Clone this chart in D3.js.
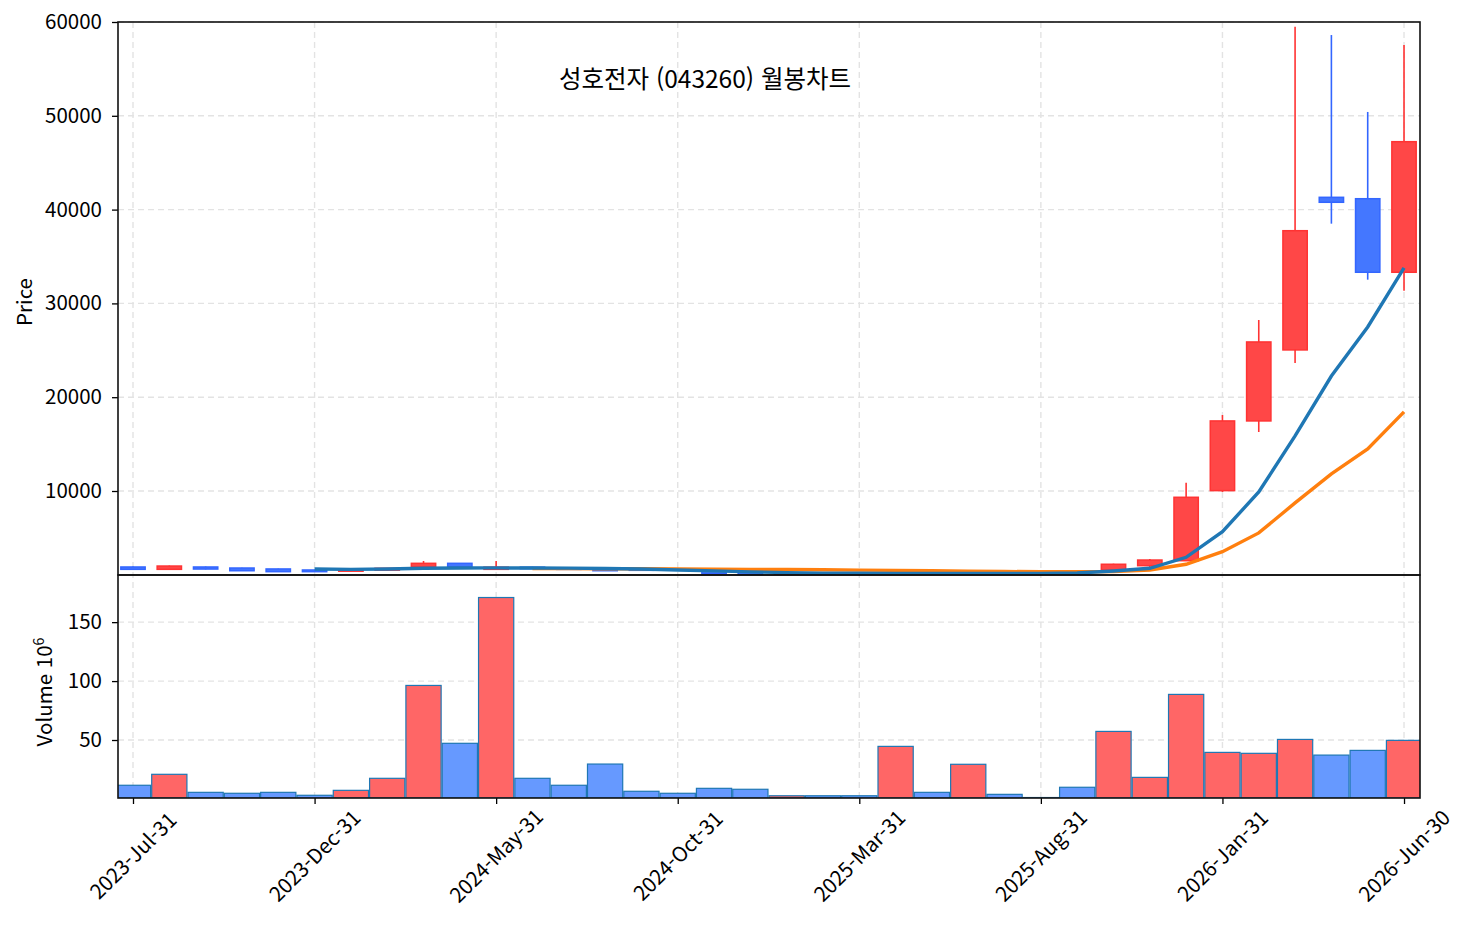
<!doctype html>
<html lang="ko">
  <head>
    <meta charset="UTF-8" />
    <title>성호전자 (043260) 월봉차트</title>
    <script src="https://cdn.jsdelivr.net/npm/d3@7"></script>
    <style>
      body { margin: 0; background: #fff; }
      svg text { font-family: "Noto Sans CJK KR", "Noto Sans", sans-serif; fill: #000; }
      .grid line { stroke: #e3e3e3; stroke-dasharray: 6,4; stroke-width: 1.4; }
      .axis line { stroke: #000; stroke-width: 1.3; }
      .axis text { font-size: 20.5px; }
    </style>
  </head>
  <body>
    <svg id="chart" width="1469" height="931"></svg>
    <script>
      // monthly candles, 2023-07 .. 2026-06
      const tickIdx = [0, 5, 10, 15, 20, 25, 30, 35];
      const tickLabels = ["2023-Jul-31", "2023-Dec-31", "2024-May-31", "2024-Oct-31",
                          "2025-Mar-31", "2025-Aug-31", "2026-Jan-31", "2026-Jun-30"];

      const opens  = [1900, 1650, 1900, 1790, 1690, 1580, 1450, 1560, 1900, 2290, 1650, 1880,
                      1750, 1700, 1650, 1700, 1440, 1360, 1080, 1230, 1200, 1150, 1250, 1200,
                      1260, 1200, 1180, 1580, 2040, 2570, 10040, 17470, 25040, 41310, 41160, 33320];
      const highs  = [1950, 2050, 1950, 1820, 1720, 1600, 1600, 1800, 2540, 2330, 2540, 1920,
                      1800, 1750, 1700, 1730, 1470, 1380, 1260, 1260, 1230, 1300, 1270, 1300,
                      1280, 1220, 1250, 2250, 2750, 10890, 18100, 28230, 59500, 58610, 50410, 57550];
      const lows   = [1600, 1620, 1640, 1470, 1380, 1370, 1420, 1530, 1850, 1850, 1620, 1680,
                      1620, 1460, 1500, 1580, 1150, 1060, 1060, 1150, 1120, 1120, 1170, 1180,
                      1170, 1160, 1120, 1560, 1900, 2540, 9900, 16290, 23650, 38500, 32530, 31360];
      const closes = [1650, 2000, 1680, 1500, 1400, 1400, 1560, 1760, 2290, 1900, 1880, 1720,
                      1650, 1500, 1550, 1600, 1180, 1080, 1230, 1180, 1150, 1250, 1200, 1260,
                      1200, 1180, 1150, 2190, 2640, 9330, 17470, 25890, 37750, 40780, 33320, 47240];
      // volume in millions of shares
      const volumes = [11.6, 20.9, 5.6, 4.8, 5.6, 3.1, 7.3, 17.5, 96.3, 47.2, 170.9, 17.5,
                       11.6, 29.6, 6.5, 4.8, 9.0, 8.2, 2.7, 2.7, 2.7, 44.6, 5.6, 29.4,
                       3.9, 1.2, 9.9, 57.3, 18.3, 88.7, 39.5, 38.7, 50.5, 37.2, 41.2, 49.7];
      // moving averages as drawn (null = not yet available)
      const maShort = [null, null, null, null, null, 1690, 1650, 1680, 1760, 1790, 1800, 1790,
                       1780, 1740, 1680, 1580, 1480, 1380, 1300, 1250, 1230, 1220, 1210, 1200,
                       1200, 1210, 1260, 1470, 1760, 2930, 5660, 9900, 15870, 22260, 27490, 33780];
      const maLong  = [null, null, null, null, null, null, null, null, null, null, null, 1720,
                       1720, 1715, 1705, 1690, 1670, 1650, 1630, 1600, 1570, 1540, 1500, 1460,
                       1420, 1390, 1390, 1420, 1580, 2190, 3530, 5530, 8730, 11820, 14480, 18430];

      const svg = d3.select("#chart");
      const left = 118, right = 1420;
      const pTop = 22, pBot = 575, vTop = 575, vBot = 798;

      const x = d3.scaleLinear().domain([-0.413, 35.44]).range([left, right]);
      const step = x(1) - x(0);
      const yP = d3.scaleLinear().domain([1045, 60000]).range([pBot, pTop]);
      const yV = d3.scaleLinear().domain([0.8, 190]).range([vBot, vTop]);
      const priceTicks = [10000, 20000, 30000, 40000, 50000, 60000];
      const volTicks = [50, 100, 150];

      const up = i => closes[i] >= opens[i];
      const idx = d3.range(closes.length);

      svg.append("defs").call(d => {
        d.append("clipPath").attr("id", "clipP").append("rect")
          .attr("x", left).attr("y", pTop).attr("width", right - left).attr("height", pBot - pTop);
        d.append("clipPath").attr("id", "clipV").append("rect")
          .attr("x", left).attr("y", vTop).attr("width", right - left).attr("height", vBot - vTop);
      });

      // grid
      const grid = svg.append("g").attr("class", "grid");
      priceTicks.forEach(v => {
        grid.append("line").attr("x1", left).attr("x2", right).attr("y1", yP(v)).attr("y2", yP(v));
      });
      volTicks.forEach(v => {
        grid.append("line").attr("x1", left).attr("x2", right).attr("y1", yV(v)).attr("y2", yV(v));
      });
      tickIdx.forEach(i => {
        grid.append("line").attr("x1", x(i)).attr("x2", x(i)).attr("y1", pTop).attr("y2", vBot);
      });

      // candles
      const candles = svg.append("g").attr("clip-path", "url(#clipP)");
      const bodyW = step * 0.67;
      const g = candles.selectAll("g.c").data(idx).enter().append("g").attr("class", "c");
      g.append("line")
        .attr("x1", i => x(i)).attr("x2", i => x(i))
        .attr("y1", i => yP(highs[i])).attr("y2", i => yP(lows[i]))
        .attr("stroke", i => up(i) ? "#ff3333" : "#3366ff")
        .attr("stroke-width", 1.6);
      g.append("rect")
        .attr("x", i => x(i) - bodyW / 2)
        .attr("width", bodyW)
        .attr("y", i => yP(Math.max(opens[i], closes[i])))
        .attr("height", i => Math.max(1, Math.abs(yP(opens[i]) - yP(closes[i]))))
        .attr("fill", i => up(i) ? "#ff4747" : "#4477ff")
        .attr("stroke", i => up(i) ? "#ff3333" : "#3366ff")
        .attr("stroke-width", 1.5);

      // moving averages
      const line = d3.line().defined(d => d[1] != null).x(d => x(d[0])).y(d => yP(d[1]));
      candles.append("path").datum(maLong.map((v, i) => [i, v]))
        .attr("d", line).attr("fill", "none").attr("stroke", "#ff7f0e").attr("stroke-width", 3.4);
      candles.append("path").datum(maShort.map((v, i) => [i, v]))
        .attr("d", line).attr("fill", "none").attr("stroke", "#1f77b4").attr("stroke-width", 3.4);

      // volume
      svg.append("g").attr("clip-path", "url(#clipV)")
        .selectAll("rect").data(idx).enter().append("rect")
        .attr("x", i => x(i) - step * 0.485)
        .attr("width", step * 0.97)
        .attr("y", i => yV(volumes[i]))
        .attr("height", i => yV(0.8) - yV(volumes[i]))
        .attr("fill", i => up(i) ? "#ff6666" : "#6699ff")
        .attr("stroke", "#1f77b4")
        .attr("stroke-width", 1.2);

      // axes
      const ayP = svg.append("g").attr("class", "axis").attr("transform", `translate(${left},0)`)
        .call(d3.axisLeft(yP).tickValues(priceTicks)
          .tickFormat(d3.format("d")).tickSize(6).tickPadding(10));
      const ayV = svg.append("g").attr("class", "axis").attr("transform", `translate(${left},0)`)
        .call(d3.axisLeft(yV).tickValues(volTicks).tickSize(6).tickPadding(10));
      const ax = svg.append("g").attr("class", "axis").attr("transform", `translate(0,${vBot})`)
        .call(d3.axisBottom(x).tickValues(tickIdx).tickFormat((d, i) => tickLabels[i]).tickSize(6));
      [ayP, ayV, ax].forEach(a => a.select(".domain").remove());
      ax.selectAll("text")
        .attr("text-anchor", "middle")
        .attr("dy", "0.35em")
        .attr("transform", "translate(0,58) rotate(-45)")
        .attr("y", 0).attr("x", 0);

      // frames
      [[pTop, pBot], [vTop, vBot]].forEach(([t, b]) => {
        svg.append("rect").attr("x", left).attr("y", t).attr("width", right - left).attr("height", b - t)
          .attr("fill", "none").attr("stroke", "#111").attr("stroke-width", 1.6);
      });

      // labels
      svg.append("text").attr("x", 705).attr("y", 88).attr("text-anchor", "middle")
        .style("font-size", "24.5px").text("성호전자 (043260) 월봉차트");
      svg.append("text").attr("transform", `translate(32,302) rotate(-90)`)
        .attr("text-anchor", "middle").style("font-size", "20.5px").text("Price");
      const vl = svg.append("text").attr("transform", `translate(52,692) rotate(-90)`)
        .attr("text-anchor", "middle").style("font-size", "20.5px");
      vl.append("tspan").text("Volume 10");
      vl.append("tspan").attr("dy", "-0.6em").style("font-size", "14px").text("6");
    </script>
  </body>
</html>
